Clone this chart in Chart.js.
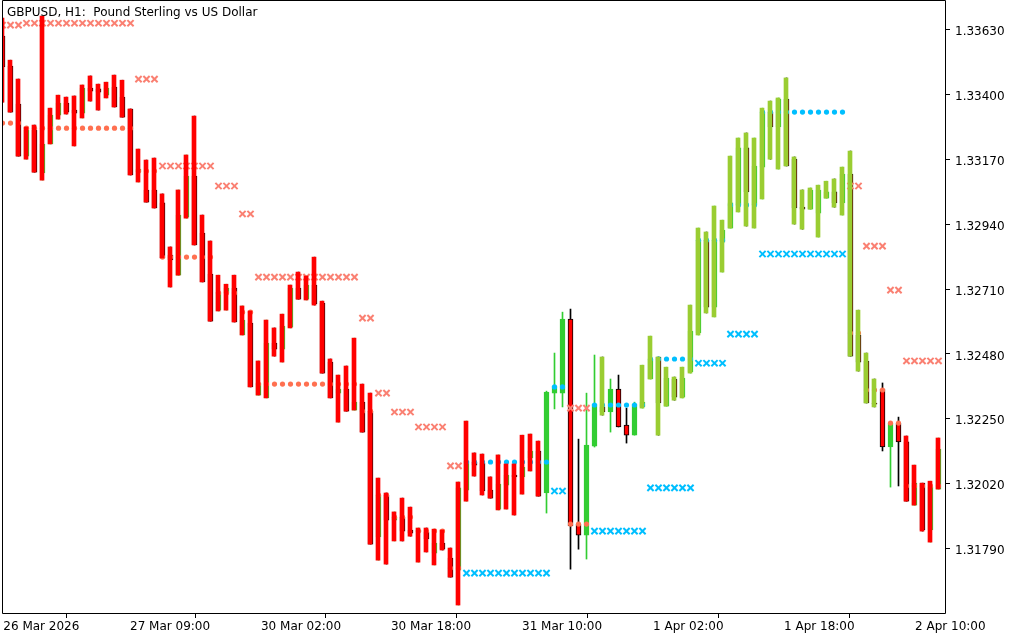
<!DOCTYPE html>
<html>
<head>
<meta charset="utf-8">
<script src="https://cdn.jsdelivr.net/npm/chart.js@4.4.1/dist/chart.umd.min.js"></script>
<style>
  html, body { margin: 0; padding: 0; background: #fff; }
  #wrap { position: relative; width: 1024px; height: 640px; }
  #title { position: absolute; left: 7px; top: 5px; font: 12px "DejaVu Sans", sans-serif; color: #000; white-space: pre; line-height: 14px; }
</style>
</head>
<body>
<div id="wrap">
  <canvas id="chart" width="1024" height="640"></canvas>
  <div id="title">GBPUSD, H1:  Pound Sterling vs US Dollar</div>
</div>
<script>
// GBPUSD H1 bars, one entry per hour, oldest first
const barOpen = [
  1.33606, 1.33500, 1.33365, 1.33181, 1.33273, 1.33121, 1.33224, 1.33326, 1.33369, 1.33344,
  1.33333, 1.33422, 1.33419, 1.33397, 1.33426, 1.33390, 1.33348, 1.33124, 1.33061, 1.33061,
  1.33015, 1.32830, 1.32759, 1.32965, 1.33110, 1.32908, 1.32763, 1.32635, 1.32696, 1.32713,
  1.32547, 1.32589, 1.32334, 1.32324, 1.32518, 1.32497, 1.32575, 1.32713, 1.32674, 1.32724,
  1.32660, 1.32451, 1.32341, 1.32355, 1.32281, 1.32309, 1.32277, 1.31831, 1.31980, 1.31891,
  1.31902, 1.31856, 1.31849, 1.31849, 1.31774, 1.31810, 1.31756, 1.31714, 1.31997, 1.32097,
  1.32093, 1.31997, 1.31930, 1.32015, 1.32051, 1.32044, 1.32111, 1.32136, 1.31987, 1.32341,
  1.32341, 1.32603, 1.31877, 1.31838, 1.32153, 1.32292, 1.32274, 1.32355, 1.32228, 1.32192,
  1.32292, 1.32391, 1.32469, 1.32295, 1.32391, 1.32327, 1.32416, 1.32554, 1.32883, 1.32646,
  1.32876, 1.32926, 1.33008, 1.33210, 1.33008, 1.33142, 1.33337, 1.33284, 1.33383, 1.33170,
  1.33000, 1.32993, 1.32979, 1.33032, 1.33054, 1.33015, 1.33117, 1.32547, 1.32455, 1.32306,
  1.32355, 1.32150, 1.32235, 1.32168, 1.31944, 1.32022, 1.31856, 1.32001
];
const barHigh = [
  1.33670, 1.33521, 1.33454, 1.33284, 1.33291, 1.33677, 1.33351, 1.33397, 1.33390, 1.33394,
  1.33433, 1.33465, 1.33436, 1.33443, 1.33468, 1.33450, 1.33348, 1.33206, 1.33167, 1.33174,
  1.33047, 1.32859, 1.33061, 1.33185, 1.33323, 1.32972, 1.32880, 1.32759, 1.32727, 1.32759,
  1.32650, 1.32632, 1.32455, 1.32600, 1.32572, 1.32621, 1.32724, 1.32770, 1.32756, 1.32823,
  1.32667, 1.32462, 1.32405, 1.32437, 1.32536, 1.32373, 1.32341, 1.32040, 1.31987, 1.31920,
  1.31969, 1.31937, 1.31863, 1.31863, 1.31859, 1.31856, 1.31792, 1.32026, 1.32242, 1.32129,
  1.32125, 1.32044, 1.32122, 1.32090, 1.32090, 1.32192, 1.32196, 1.32171, 1.32348, 1.32483,
  1.32628, 1.32639, 1.32178, 1.32341, 1.32476, 1.32469, 1.32391, 1.32405, 1.32288, 1.32309,
  1.32440, 1.32543, 1.32469, 1.32433, 1.32398, 1.32433, 1.32653, 1.32926, 1.32912, 1.33004,
  1.32954, 1.33181, 1.33245, 1.33263, 1.33245, 1.33351, 1.33376, 1.33387, 1.33458, 1.33178,
  1.33061, 1.33068, 1.33078, 1.33092, 1.33100, 1.33142, 1.33199, 1.32635, 1.32483, 1.32391,
  1.32377, 1.32238, 1.32256, 1.32189, 1.32086, 1.32022, 1.32029, 1.32182
];
const barLow = [
  1.33372, 1.33337, 1.33181, 1.33170, 1.33124, 1.33096, 1.33224, 1.33312, 1.33330, 1.33217,
  1.33316, 1.33376, 1.33344, 1.33387, 1.33355, 1.33319, 1.33114, 1.33089, 1.33018, 1.32997,
  1.32820, 1.32717, 1.32759, 1.32961, 1.32866, 1.32735, 1.32596, 1.32632, 1.32635, 1.32593,
  1.32547, 1.32363, 1.32334, 1.32324, 1.32472, 1.32451, 1.32572, 1.32674, 1.32671, 1.32653,
  1.32412, 1.32324, 1.32238, 1.32277, 1.32281, 1.32203, 1.31806, 1.31749, 1.31735, 1.31817,
  1.31817, 1.31834, 1.31742, 1.31778, 1.31732, 1.31785, 1.31689, 1.31590, 1.31958, 1.32047,
  1.31980, 1.31969, 1.31927, 1.31930, 1.31909, 1.31983, 1.32065, 1.31976, 1.31916, 1.32285,
  1.32292, 1.31717, 1.31788, 1.31753, 1.32150, 1.32263, 1.32203, 1.32221, 1.32164, 1.32192,
  1.32288, 1.32391, 1.32192, 1.32295, 1.32316, 1.32324, 1.32412, 1.32547, 1.32625, 1.32611,
  1.32770, 1.32926, 1.32983, 1.32933, 1.32926, 1.33029, 1.33170, 1.33135, 1.33146, 1.32940,
  1.32922, 1.32993, 1.32894, 1.33032, 1.33000, 1.32972, 1.32472, 1.32419, 1.32306, 1.32292,
  1.32136, 1.32008, 1.32012, 1.31958, 1.31944, 1.31852, 1.31813, 1.32001
];
const barClose = [
  1.33497, 1.33337, 1.33181, 1.33273, 1.33124, 1.33224, 1.33326, 1.33369, 1.33337, 1.33333,
  1.33422, 1.33411, 1.33408, 1.33422, 1.33355, 1.33319, 1.33114, 1.33135, 1.33018, 1.32997,
  1.32820, 1.32813, 1.32972, 1.33110, 1.32866, 1.32735, 1.32596, 1.32699, 1.32713, 1.32593,
  1.32600, 1.32363, 1.32377, 1.32518, 1.32497, 1.32579, 1.32713, 1.32674, 1.32724, 1.32657,
  1.32412, 1.32324, 1.32355, 1.32277, 1.32309, 1.32203, 1.31806, 1.31980, 1.31891, 1.31902,
  1.31852, 1.31845, 1.31856, 1.31824, 1.31810, 1.31788, 1.31689, 1.32005, 1.32100, 1.32086,
  1.31994, 1.31969, 1.32019, 1.32051, 1.32044, 1.32079, 1.32136, 1.31976, 1.32345, 1.32366,
  1.32603, 1.31870, 1.31838, 1.32157, 1.32302, 1.32274, 1.32355, 1.32221, 1.32192, 1.32302,
  1.32309, 1.32462, 1.32306, 1.32394, 1.32327, 1.32394, 1.32561, 1.32883, 1.32646, 1.32883,
  1.32919, 1.33015, 1.33210, 1.33054, 1.33146, 1.33337, 1.33284, 1.33383, 1.33146, 1.32997,
  1.32993, 1.33061, 1.33061, 1.33054, 1.33015, 1.33117, 1.32472, 1.32451, 1.32306, 1.32302,
  1.32150, 1.32235, 1.32168, 1.31958, 1.32022, 1.31856, 1.32008, 1.32143
];
// trend colour bar drawn over each candle: R = down (red), G = up (yellowgreen), - = none
const barTrend = [
  'RRRRRRRRRR', 'RRRRRRRRRR', 'RRRRRRRRRR', 'RRRRRRRRRR', 'RRRRRRRRRR', 'RRRRRRRRRR',
  'RRRRRRRR--', '-----G----', 'GGGGGGGGGG', 'GGGGGGGGGG', 'GGGGGGGGGG', '---RRRRR'
].join('').split('');

// indicator levels: [first bar, last bar, price]
const salmonCrossLevels = [
  [0, 2, 1.33645], [3, 16, 1.33652], [17, 19, 1.33454], [20, 26, 1.33146], [27, 29, 1.33075],
  [30, 31, 1.32976], [32, 44, 1.32752], [45, 46, 1.32607], [47, 48, 1.32341], [49, 51, 1.32274],
  [52, 55, 1.32221], [56, 57, 1.32083], [71, 73, 1.32288], [106, 107, 1.33075], [108, 110, 1.32862],
  [111, 112, 1.32706], [113, 117, 1.32455]
];
const salmonDotLevels = [
  [0, 2, 1.33298], [3, 16, 1.33280], [17, 19, 1.33128], [20, 26, 1.32823], [27, 29, 1.32696],
  [30, 31, 1.32628], [32, 44, 1.32373], [45, 46, 1.32277], [47, 48, 1.31980], [49, 51, 1.31902],
  [52, 55, 1.31852], [56, 57, 1.31721], [71, 73, 1.31877], [106, 107, 1.32554], [108, 110, 1.32352],
  [111, 112, 1.32235], [113, 117, 1.32012]
];
const blueCrossLevels = [
  [58, 68, 1.31703], [69, 70, 1.31994], [74, 80, 1.31852], [81, 86, 1.32005],
  [87, 90, 1.32447], [91, 94, 1.32550], [95, 105, 1.32834]
];
const blueDotLevels = [
  [58, 68, 1.32097], [69, 70, 1.32363], [74, 80, 1.32299], [81, 86, 1.32462],
  [87, 90, 1.32883], [91, 94, 1.33008], [95, 105, 1.33337]
];

// time labels and the bar position each one is drawn at
const xTickLabels = ['26 Mar 2026', '27 Mar 09:00', '30 Mar 02:00', '30 Mar 18:00',
  '31 Mar 10:00', '1 Apr 02:00', '1 Apr 18:00', '2 Apr 10:00'];
const xTickBars = [0.1, 15.94, 32.31, 48.56, 64.94, 81.31, 97.69, 114.06];
const yTickValues = [1.31790, 1.32020, 1.32250, 1.32480, 1.32710, 1.32940, 1.33170, 1.33400, 1.33630];

const RED = '#ff0000';
const LIME = '#32cd32';
const YGREEN = '#9acd32';
const HIST_SHIFT = -0.0625;    // trend bar sits half a pixel left of the candle

function expand(levels) {
  const pts = [];
  levels.forEach(([a, b, v]) => {
    for (let i = a; i <= b; i++) pts.push({ x: i, y: v });
  });
  return pts;
}

const idx = barOpen.map((_, i) => i);
const isBull = idx.map(i => barClose[i] > barOpen[i]);

const histIdx = idx.filter(i => barTrend[i] !== '-');

const frame = {
  id: 'frame',
  afterDraw(chart) {
    const { ctx, chartArea: a } = chart;
    const l = Math.round(a.left) + 0.5, r = Math.round(a.right) - 0.5, b = Math.round(a.bottom) + 0.5;
    ctx.save();
    ctx.strokeStyle = '#000';
    ctx.lineWidth = 1;
    ctx.beginPath();
    ctx.moveTo(l, 0.5);
    ctx.lineTo(r, 0.5);
    ctx.lineTo(r, b);
    ctx.lineTo(l, b);
    ctx.closePath();
    ctx.stroke();
    ctx.restore();
  }
};

Chart.defaults.font.family = '"DejaVu Sans", sans-serif';
Chart.defaults.font.size = 12;
Chart.defaults.color = '#000';

new Chart(document.getElementById('chart').getContext('2d'), {
  type: 'bar',
  data: {
    datasets: [
      {
        label: 'wick',
        data: idx.map(i => ({ x: i, y: [barLow[i], barHigh[i]] })),
        backgroundColor: idx.map(i => isBull[i] ? LIME : '#000'),
        barThickness: 1,
        grouped: false,
        order: 5
      },
      {
        label: 'body',
        data: idx.map(i => ({ x: i, y: [barOpen[i], barClose[i]] })),
        backgroundColor: idx.map(i => isBull[i] ? LIME : RED),
        borderColor: idx.map(i => isBull[i] ? LIME : '#000'),
        borderWidth: 1,
        borderSkipped: false,
        minBarLength: 1,
        barThickness: 5,
        grouped: false,
        order: 4
      },
      {
        type: 'line',
        label: 'salmon cross',
        data: expand(salmonCrossLevels),
        showLine: false,
        pointStyle: 'crossRot',
        pointRadius: 4.4,
        pointBorderWidth: 2,
        pointBorderColor: '#fa8072',
        order: 3
      },
      {
        type: 'line',
        label: 'salmon dot',
        data: expand(salmonDotLevels),
        showLine: false,
        pointStyle: 'circle',
        pointRadius: 2.6,
        pointBorderWidth: 0,
        pointBackgroundColor: '#ff7050',
        order: 3
      },
      {
        type: 'line',
        label: 'blue cross',
        data: expand(blueCrossLevels),
        showLine: false,
        pointStyle: 'crossRot',
        pointRadius: 4.4,
        pointBorderWidth: 2,
        pointBorderColor: '#00bfff',
        order: 3
      },
      {
        type: 'line',
        label: 'blue dot',
        data: expand(blueDotLevels),
        showLine: false,
        pointStyle: 'circle',
        pointRadius: 2.6,
        pointBorderWidth: 0,
        pointBackgroundColor: '#00bfff',
        order: 3
      },
      {
        label: 'trend',
        data: histIdx.map(i => ({ x: i + HIST_SHIFT, y: [barLow[i], barHigh[i]] })),
        backgroundColor: histIdx.map(i => barTrend[i] === 'G' ? YGREEN : RED),
        barThickness: 4,
        grouped: false,
        order: 1
      }
    ]
  },
  options: {
    responsive: false,
    animation: false,
    devicePixelRatio: 1,
    layout: { autoPadding: false, padding: { left: 2, top: 0, right: 0, bottom: 0 } },
    plugins: { legend: { display: false }, tooltip: { enabled: false } },
    scales: {
      x: {
        type: 'linear',
        offset: false,
        min: -0.0625,
        max: 117.9375,
        border: { display: false },
        grid: { drawOnChartArea: false, drawTicks: true, tickLength: 5, color: '#000' },
        ticks: {
          autoSkip: false, maxRotation: 0, minRotation: 0, align: 'start', padding: 2,
          callback: (v, k) => xTickLabels[k]
        },
        afterBuildTicks: s => { s.ticks = xTickBars.map(v => ({ value: v })); },
        afterFit: s => { s.height = 27; s.paddingLeft = 0; s.paddingRight = 0; }
      },
      y: {
        position: 'right',
        min: 1.315618,
        max: 1.337342,
        beginAtZero: false,
        border: { display: false },
        grid: { drawOnChartArea: false, drawTicks: true, tickLength: 4, color: '#000' },
        ticks: { padding: 5, labelOffset: 2.5, callback: v => v.toFixed(5) },
        afterBuildTicks: s => { s.ticks = yTickValues.map(v => ({ value: v })); },
        afterFit: s => { s.width = 78; s.paddingTop = 0; s.paddingBottom = 0; }
      }
    }
  },
  plugins: [frame]
});
</script>
</body>
</html>
